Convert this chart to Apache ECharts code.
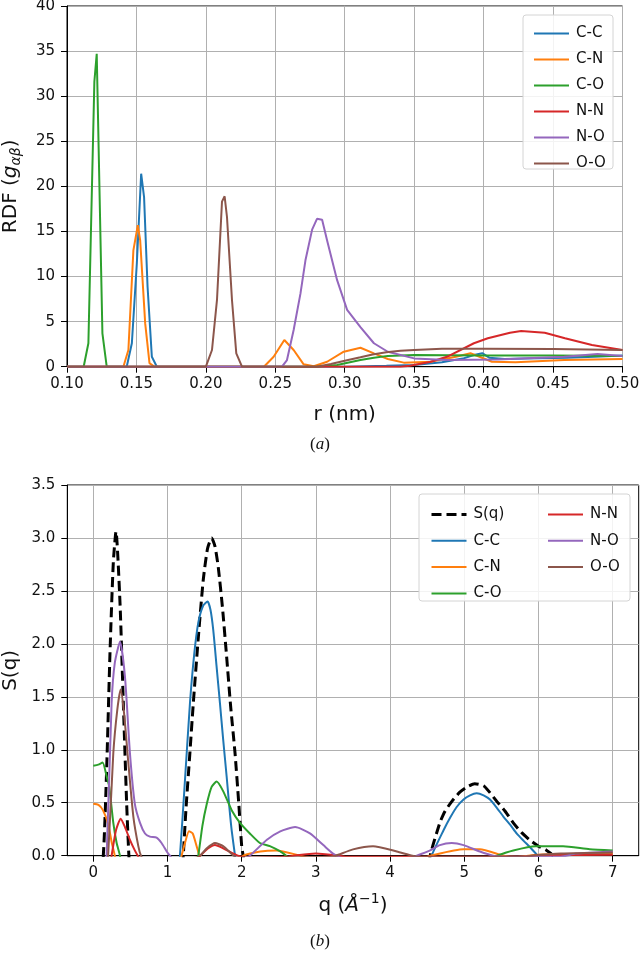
<!DOCTYPE html>
<html>
<head>
<meta charset="utf-8">
<script src="https://cdn.jsdelivr.net/npm/echarts@6/dist/echarts.min.js"></script>
<style>
html,body{margin:0;padding:0;background:#fff;}
#chart{width:640px;height:959px;}
</style>
</head>
<body>
<div id="chart"></div>
<script>
// ---------- Panel (a): RDF, [r (nm), g] ----------
const rdfNames = ['C-C', 'C-N', 'C-O', 'N-N', 'N-O', 'O-O'];
const rdf_CC = [[0.10,0],[0.143,0],[0.1467,2.6],[0.1503,11.5],[0.1534,21.4],[0.1555,18.8],[0.158,8.9],[0.1611,1.1],[0.1647,0],[0.30,0],[0.33,0.1],[0.35,0.2],[0.37,0.5],[0.385,0.9],[0.393,1.3],[0.399,1.5],[0.404,1.0],[0.415,0.85],[0.43,0.9],[0.46,1.0],[0.48,1.1],[0.50,1.25]];
const rdf_CN = [[0.10,0],[0.1406,0],[0.1442,1.85],[0.1478,12.9],[0.151,15.7],[0.1527,14.0],[0.1563,4.8],[0.1594,0.4],[0.163,0],[0.2418,0],[0.2488,1.1],[0.2565,2.96],[0.2632,1.85],[0.2704,0.26],[0.2777,0.05],[0.2873,0.55],[0.2993,1.66],[0.3113,2.1],[0.321,1.48],[0.331,0.85],[0.3425,0.45],[0.3615,0.55],[0.380,1.1],[0.3905,1.5],[0.397,1.1],[0.406,0.55],[0.423,0.48],[0.458,0.74],[0.50,0.85]];
const rdf_CO = [[0.10,0],[0.112,0],[0.1154,2.6],[0.1197,31.6],[0.1214,34.7],[0.1255,3.7],[0.1286,0],[0.28,0],[0.2945,0.2],[0.3113,0.74],[0.321,1.0],[0.331,1.2],[0.35,1.3],[0.40,1.25],[0.45,1.25],[0.50,1.2]];
const rdf_NN = [[0.10,0],[0.34,0],[0.347,0.1],[0.362,0.55],[0.3736,1.1],[0.393,2.6],[0.403,3.15],[0.419,3.77],[0.427,3.95],[0.444,3.77],[0.4586,3.15],[0.478,2.4],[0.50,1.85]];
const rdf_NO = [[0.10,0],[0.2548,0],[0.2584,0.74],[0.2632,4.07],[0.2681,8.1],[0.2717,11.8],[0.2765,15.2],[0.28,16.4],[0.2837,16.3],[0.2873,14.0],[0.2945,9.6],[0.3017,6.3],[0.3113,4.4],[0.321,2.6],[0.331,1.66],[0.35,0.92],[0.374,0.74],[0.41,0.8],[0.458,1.1],[0.482,1.4],[0.50,1.2]];
const rdf_OO = [[0.10,0],[0.2,0],[0.2044,1.85],[0.208,7.4],[0.2116,18.3],[0.2135,18.9],[0.2152,16.6],[0.2188,7.4],[0.2219,1.48],[0.226,0],[0.28,0],[0.29,0.3],[0.30,0.65],[0.3113,1.04],[0.32,1.35],[0.33,1.6],[0.34,1.77],[0.35,1.85],[0.37,2.0],[0.40,2.0],[0.45,1.95],[0.50,1.85]];

// ---------- Panel (b): S(q), [q (1/Å), S] ----------
const sqNames = ['S(q)', 'C-C', 'C-N', 'C-O', 'N-N', 'N-O', 'O-O'];
const sq_total = [[0,-1],[0.135,0],[0.18,0.81],[0.225,1.91],[0.27,2.77],[0.306,3.06],[0.36,2.39],[0.405,1.44],[0.45,0.49],[0.48,0],[0.55,-0.8],[1.15,-0.8],[1.213,0],[1.25,0.45],[1.30,0.95],[1.348,1.44],[1.42,2.1],[1.483,2.61],[1.54,2.9],[1.595,3.0],[1.64,2.92],[1.685,2.72],[1.74,2.35],[1.797,1.88],[1.85,1.42],[1.91,0.97],[1.96,0.5],[2.0,0.09],[2.02,0],[2.1,-0.5],[4.45,-0.4],[4.54,0],[4.67,0.31],[4.74,0.42],[4.84,0.52],[4.94,0.6],[5.04,0.65],[5.14,0.68],[5.26,0.66],[5.34,0.6],[5.43,0.52],[5.55,0.42],[5.66,0.31],[5.77,0.22],[5.88,0.15],[6.0,0.09],[6.11,0.05],[6.2,0],[6.3,-0.1],[7,-0.1]];
const sq_CC = [[0,-0.5],[1.1,-0.5],[1.168,0],[1.23,0.65],[1.303,1.44],[1.36,1.9],[1.415,2.2],[1.48,2.36],[1.54,2.4],[1.58,2.32],[1.617,2.13],[1.66,1.8],[1.707,1.44],[1.75,1.1],[1.797,0.75],[1.835,0.45],[1.865,0.24],[1.91,0],[1.97,-0.3],[4.5,-0.2],[4.56,0],[4.72,0.24],[4.81,0.36],[4.897,0.46],[4.99,0.53],[5.077,0.57],[5.166,0.59],[5.26,0.57],[5.346,0.53],[5.44,0.45],[5.526,0.37],[5.62,0.29],[5.705,0.21],[5.8,0.14],[5.885,0.08],[5.99,0],[6.05,-0.05],[7,-0.03]];
const sq_CN = [[0,0.49],[0.07,0.48],[0.13,0.43],[0.2,0.3],[0.25,0.12],[0.29,0],[0.33,-0.2],[1.12,-0.2],[1.19,0],[1.236,0.12],[1.29,0.23],[1.34,0.21],[1.393,0.09],[1.43,0],[1.5,-0.1],[1.95,-0.05],[2.02,0],[2.25,0.04],[2.47,0.05],[2.79,0],[2.9,-0.02],[4.45,-0.02],[4.54,0],[4.99,0.06],[5.21,0.06],[5.53,0],[5.7,-0.01],[6.0,0.01],[7,0.02]];
const sq_CO = [[0,0.85],[0.068,0.86],[0.126,0.88],[0.18,0.75],[0.215,0.65],[0.27,0.31],[0.315,0.12],[0.36,0],[0.4,-0.2],[1.35,-0.2],[1.415,0],[1.47,0.28],[1.53,0.49],[1.595,0.65],[1.663,0.70],[1.75,0.61],[1.865,0.43],[1.977,0.31],[2.11,0.21],[2.245,0.12],[2.38,0.09],[2.52,0.04],[2.6,0],[2.7,-0.05],[5.35,-0.03],[5.44,0],[5.66,0.05],[5.96,0.09],[6.33,0.09],[6.69,0.06],[7.0,0.05]];
const sq_NN = [[0,-0.2],[0.2,-0.2],[0.247,0],[0.306,0.24],[0.369,0.35],[0.427,0.27],[0.494,0.15],[0.56,0.05],[0.6,0],[0.65,-0.05],[1.38,-0.03],[1.44,0],[1.55,0.07],[1.64,0.1],[1.75,0.07],[1.89,0.02],[1.95,0],[2.1,-0.02],[2.6,-0.01],[2.7,0],[3.0,0.02],[3.3,0],[3.4,-0.01],[5.8,-0.01],[6.0,0.005],[7,0.01]];
const sq_NO = [[0,-0.5],[0.12,-0.5],[0.18,0],[0.247,1.44],[0.29,1.82],[0.36,2.02],[0.427,1.69],[0.494,0.97],[0.56,0.49],[0.63,0.31],[0.697,0.21],[0.763,0.18],[0.853,0.17],[0.92,0.12],[0.99,0.04],[1.034,0],[1.1,-0.05],[2.05,-0.02],[2.11,0],[2.34,0.15],[2.52,0.23],[2.72,0.27],[2.92,0.21],[3.1,0.1],[3.23,0.02],[3.28,0],[3.4,-0.03],[4.3,-0.02],[4.36,0],[4.54,0.05],[4.67,0.1],[4.83,0.12],[4.99,0.1],[5.21,0.04],[5.39,0],[5.5,-0.01],[6.3,-0.01],[6.5,0.02],[7,0.04]];
const sq_OO = [[0,-0.3],[0.15,-0.3],[0.2,0],[0.27,0.97],[0.324,1.38],[0.369,1.57],[0.414,1.35],[0.472,0.88],[0.54,0.37],[0.607,0.09],[0.643,0],[0.7,-0.05],[1.38,-0.02],[1.44,0],[1.53,0.07],[1.64,0.12],[1.75,0.09],[1.89,0],[1.95,-0.02],[3.2,-0.01],[3.27,0],[3.5,0.06],[3.77,0.09],[4.09,0.04],[4.3,0],[4.4,-0.01],[5.8,-0.01],[5.9,0],[6.3,0.02],[7,0.03]];
const qTicks = [0, 1, 2, 3, 4, 5, 6, 7];

const colors = ['#1f77b4', '#ff7f0e', '#2ca02c', '#d62728', '#9467bd', '#8c564b'];
const FONT = 'DejaVu Sans';
const rdfData = [rdf_CC, rdf_CN, rdf_CO, rdf_NN, rdf_NO, rdf_OO];
const sqData = [sq_CC, sq_CN, sq_CO, sq_NN, sq_NO, sq_OO];

function axisCommon(extra) {
  return Object.assign({
    type: 'value',
    axisLine: { show: true, onZero: false, lineStyle: { color: '#000', width: 1 } },
    axisTick: { show: true, length: 6, lineStyle: { color: '#000', width: 1 } },
    axisLabel: { color: '#111', fontSize: 15, fontFamily: FONT },
    splitLine: { show: true, lineStyle: { color: '#b0b0b0', width: 1 } },
    nameLocation: 'middle',
    nameTextStyle: { color: '#111', fontSize: 20, fontFamily: FONT }
  }, extra);
}

const series = [];
rdfNames.forEach((n, i) => {
  series.push({ name: n, type: 'line', xAxisIndex: 0, yAxisIndex: 0, data: rdfData[i],
    symbol: 'none', color: colors[i], lineStyle: { width: 2, color: colors[i] }, clip: true });
});
series.push({ name: 'S(q)', type: 'line', xAxisIndex: 1, yAxisIndex: 1, data: sq_total,
  symbol: 'none', color: '#000', smooth: 0.2,
  lineStyle: { width: 3, color: '#000', type: [10, 5] }, clip: true });
rdfNames.forEach((n, i) => {
  series.push({ name: n, type: 'line', xAxisIndex: 1, yAxisIndex: 1, data: sqData[i],
    symbol: 'none', color: colors[i], smooth: 0.2,
    lineStyle: { width: 2, color: colors[i] }, clip: true });
});

const legendText = { color: '#111', fontSize: 15, fontFamily: FONT, padding: [0, 0, 0, 2] };
const legendBase = { orient: 'vertical', itemWidth: 35, itemHeight: 14, itemGap: 11,
  selectedMode: false, textStyle: legendText, z: 6,
  lineStyle: { width: 2 },
  itemStyle: { color: 'rgba(0,0,0,0)', borderColor: 'rgba(0,0,0,0)', borderWidth: 0, opacity: 0 } };

const option = {
  animation: false,
  backgroundColor: '#fff',
  grid: [
    { left: 67, right: 17.5, top: 6, bottom: 592.3, containLabel: false, outerBoundsMode: 'none',
      show: true, borderColor: '#000', borderWidth: 1, backgroundColor: 'transparent' },
    { left: 67.3, right: 1.3, top: 485, bottom: 103.3, containLabel: false, outerBoundsMode: 'none',
      show: true, borderColor: '#000', borderWidth: 1, backgroundColor: 'transparent' }
  ],
  xAxis: [
    axisCommon({ gridIndex: 0, min: 0.1, max: 0.5, interval: 0.05, name: 'r (nm)', nameGap: 38,
      axisLabel: { color: '#111', fontSize: 15, fontFamily: FONT, margin: 10, formatter: v => v.toFixed(2) } }),
    axisCommon({ gridIndex: 1, min: -0.35, max: 7.35,
      name: '{n|q (}{a|Å}{p|−1}{n|)}', nameGap: 37,
      nameTextStyle: { color: '#111', fontFamily: FONT, rich: {
        n: { fontSize: 20, fontFamily: FONT, color: '#111' },
        a: { fontSize: 20, fontFamily: FONT, fontStyle: 'italic', color: '#111' },
        p: { fontSize: 14, fontFamily: FONT, color: '#111', padding: [0, 0, 12, 0] } } },
      axisTick: { show: true, length: 6, customValues: qTicks, lineStyle: { color: '#000', width: 1 } },
      axisLabel: { color: '#111', fontSize: 15, fontFamily: FONT, margin: 10, customValues: qTicks, formatter: v => String(Math.round(v)) } })
  ],
  yAxis: [
    axisCommon({ gridIndex: 0, min: 0, max: 40, interval: 5,
      name: '{n|RDF (}{g|g}{s|αβ}{n|)}', nameGap: 44,
      nameTextStyle: { color: '#111', fontFamily: FONT, rich: {
        n: { fontSize: 20, fontFamily: FONT, color: '#111' },
        g: { fontSize: 20, fontFamily: FONT, fontStyle: 'italic', color: '#111' },
        s: { fontSize: 14, fontFamily: FONT, fontStyle: 'italic', color: '#111', padding: [10, 0, 0, 0] } } },
      axisLabel: { color: '#111', fontSize: 15, fontFamily: FONT, margin: 12 } }),
    axisCommon({ gridIndex: 1, min: 0, max: 3.5, interval: 0.5, name: 'S(q)', nameGap: 46,
      axisLabel: { color: '#111', fontSize: 15, fontFamily: FONT, margin: 12, formatter: v => v.toFixed(1) } })
  ],
  legend: [
    Object.assign({}, legendBase, { left: 528, top: 21, data: rdfNames }),
    Object.assign({}, legendBase, { left: 425, top: 502, itemGap: 11.3,
      data: [{ name: 'S(q)', lineStyle: { width: 3 } }, 'C-C', 'C-N', 'C-O'] }),
    Object.assign({}, legendBase, { left: 542, top: 502, itemGap: 11.3, data: ['N-N', 'N-O', 'O-O'] })
  ],
  graphic: [
    { type: 'rect', z: 5, shape: { x: 523, y: 15, width: 90, height: 154, r: 3 },
      style: { fill: 'rgba(255,255,255,0.85)', stroke: '#d4d4d4', lineWidth: 1 } },
    { type: 'rect', z: 5, shape: { x: 419, y: 494, width: 211, height: 107, r: 3 },
      style: { fill: 'rgba(255,255,255,0.85)', stroke: '#d4d4d4', lineWidth: 1 } },
    { type: 'text', z: 5, style: { x: 320, y: 445, text: '{p|(}{i|a}{p|)}', align: 'center', verticalAlign: 'middle',
      rich: { p: { fontSize: 17, fontFamily: 'Liberation Serif', fill: '#111' },
              i: { fontSize: 17, fontFamily: 'Liberation Serif', fontStyle: 'italic', fill: '#111' } } } },
    { type: 'text', z: 5, style: { x: 320, y: 942, text: '{p|(}{i|b}{p|)}', align: 'center', verticalAlign: 'middle',
      rich: { p: { fontSize: 17, fontFamily: 'Liberation Serif', fill: '#111' },
              i: { fontSize: 17, fontFamily: 'Liberation Serif', fontStyle: 'italic', fill: '#111' } } } }
  ],
  series: series
};

const chart = echarts.init(document.getElementById('chart'), null, { renderer: 'canvas' });
chart.setOption(option);
</script>
</body>
</html>
